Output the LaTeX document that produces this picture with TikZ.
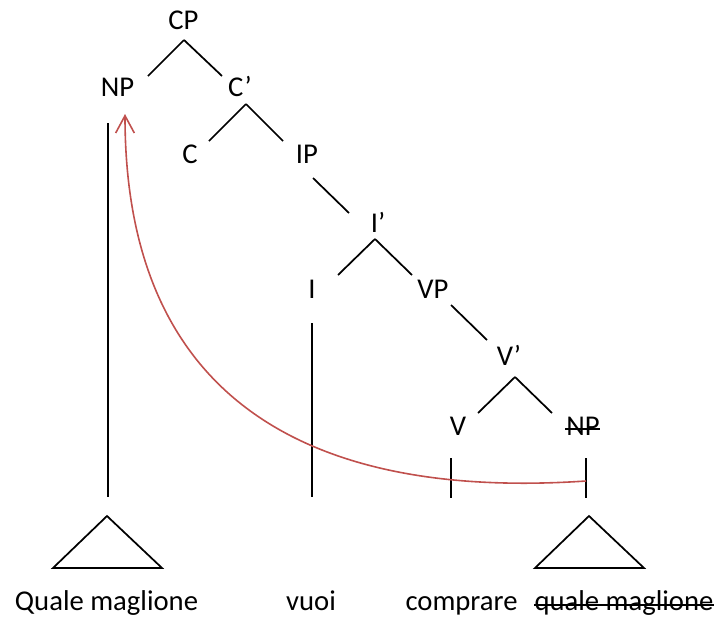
\documentclass[tikz,border=0pt]{standalone}
\usepackage{fontspec}
\setmainfont{Carlito}
\usepackage{tikz}
\usetikzlibrary{arrows.meta,calc}
\definecolor{movered}{HTML}{C0504D}
\newcommand{\catfont}{\fontsize{21.5}{26}\selectfont}
\tikzset{
  lab/.style={font=\catfont,inner sep=0pt,anchor=base},
  branch/.style={line width=1.3pt,black},
  strike/.style={line width=1pt,black},
  movement/.style={line width=1.2pt,movered,-{Straight Barb[length=13pt,width=14pt,line width=1.2pt]}}
}

\begin{document}
\begin{tikzpicture}[x=0.75pt,y=-0.75pt]
  \useasboundingbox (0,0) rectangle (718,618);

  % categories
  \node[lab] (cp)   at (183.5,29) {CP};
  \node[lab] (np)   at (117.5,96) {NP};
  \node[lab] (cbar) at (240,96)   {C’};
  \node[lab] (c)    at (190,163)  {C};
  \node[lab] (ip)   at (307,163)  {IP};
  \node[lab] (ibar) at (378,232)  {I’};
  \node[lab] (i)    at (312,298)  {I};
  \node[lab] (vp)   at (433,298)  {VP};
  \node[lab] (vbar) at (509,365)  {V’};
  \node[lab] (v)    at (458,435)  {V};
  \node[lab] (npt)  at (583,435)  {NP};

  % words
  \node[lab] (quale)    at (106.5,610) {Quale maglione};
  \node[lab] (vuoi)     at (311,610)   {vuoi};
  \node[lab] (comprare) at (461.5,610) {comprare};
  \node[lab] (trace)    at (624,610)   {quale maglione};

  % struck copies
  \draw[strike] ([shift={(-1,-6)}]npt.base west) -- ([shift={(0,-6)}]npt.base east);
  \draw[strike] ([shift={(0,-5)}]trace.base west) -- ([shift={(0,-5)}]trace.base east);

  % branches
  \draw[branch] ([shift={(0.5,11)}]cp.base) -- ([shift={(30.5,-20)}]np.base);
  \draw[branch] ([shift={(0.5,11)}]cp.base) -- ([shift={(-18,-20)}]cbar.base);
  \draw[branch] ([shift={(6,8)}]cbar.base) -- ([shift={(19,-22)}]c.base);
  \draw[branch] ([shift={(6,8)}]cbar.base) -- ([shift={(-24,-22)}]ip.base);
  \draw[branch] ([shift={(6,15)}]ip.base) -- ([shift={(-29,-19)}]ibar.base);
  \draw[branch] ([shift={(-3,7)}]ibar.base) -- ([shift={(26,-23)}]i.base);
  \draw[branch] ([shift={(-3,7)}]ibar.base) -- ([shift={(-21,-23)}]vp.base);
  \draw[branch] ([shift={(18,7)}]vp.base) -- ([shift={(-22,-25)}]vbar.base);
  \draw[branch] ([shift={(6,12)}]vbar.base) -- ([shift={(20,-22)}]v.base);
  \draw[branch] ([shift={(6,12)}]vbar.base) -- ([shift={(-31,-22)}]npt.base);

  % triangles
  \draw[branch] (107,516) coordinate (tri1) -- (162,568) -- (53,568) -- cycle;
  \draw[branch] (589,516) coordinate (tri2) -- (644,568) -- (535,568) -- cycle;

  % stems
  \draw[branch] ([shift={(-9.5,27)}]np.base) -- ([shift={(1,-19)}]tri1);
  \draw[branch] ([shift={(0,25)}]i.base) -- ([shift={(1,-113)}]vuoi.base);
  \draw[branch] ([shift={(-7,23)}]v.base) -- ([shift={(-10.5,-112)}]comprare.base);
  \draw[branch] ([shift={(3,23)}]npt.base) -- ([shift={(-3,-18)}]tri2);

  % movement
  \coordinate (launch) at ([shift={(3,46)}]npt.base);
  \coordinate (landing) at ([shift={(7.5,18)}]np.base);
  \draw[movement] (launch) .. controls (380,495) and (125,450) .. (landing);
\end{tikzpicture}
\end{document}
